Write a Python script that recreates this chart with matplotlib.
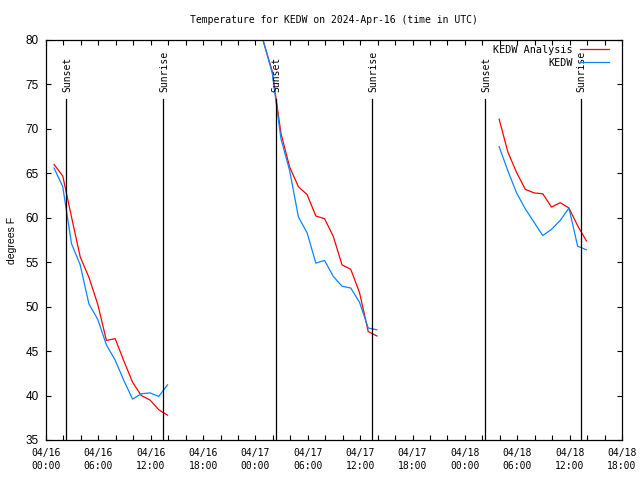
import matplotlib
matplotlib.use('Agg')
import matplotlib.pyplot as plt

# hours since 04/16 00:00 UTC (obs at :55 past each hour)
t1 = [0.92, 1.92, 2.92, 3.92, 4.92, 5.92, 6.92, 7.92, 8.92, 9.92, 10.92, 11.92, 12.92, 13.92]
ana1 = [66.0, 64.7, 60.1, 55.6, 53.3, 50.3, 46.2, 46.4, 43.9, 41.5, 40.0, 39.5, 38.4, 37.8]
obs1 = [65.6, 63.5, 57.1, 54.7, 50.3, 48.6, 45.7, 44.0, 41.7, 39.6, 40.2, 40.3, 39.9, 41.2]

t2 = [24.92, 25.92, 26.92, 27.92, 28.92, 29.92, 30.92, 31.92, 32.92, 33.92, 34.92, 35.92, 36.92, 37.92]
ana2 = [79.8, 76.5, 69.5, 65.7, 63.5, 62.6, 60.2, 59.9, 57.9, 54.7, 54.2, 51.6, 47.2, 46.7]
obs2 = [79.8, 76.3, 68.9, 65.3, 60.1, 58.3, 54.9, 55.2, 53.4, 52.3, 52.1, 50.5, 47.6, 47.4]

t3 = [51.92, 52.92, 53.92, 54.92, 55.92, 56.92, 57.92, 58.92, 59.92, 60.92, 61.92]
ana3 = [71.1, 67.4, 65.1, 63.2, 62.8, 62.7, 61.2, 61.7, 61.1, 59.1, 57.4]
obs3 = [68.0, 65.3, 62.8, 61.0, 59.5, 58.0, 58.7, 59.7, 61.1, 56.8, 56.4]

sunset = [2.32, 26.30, 50.33]
sunrise = [13.37, 37.33, 61.25]

tick_hours = [0, 6, 12, 18, 24, 30, 36, 42, 48, 54, 60, 66]
tick_days = ['04/16', '04/16', '04/16', '04/16', '04/17', '04/17', '04/17', '04/17',
             '04/18', '04/18', '04/18', '04/18']
tick_times = ['00:00', '06:00', '12:00', '18:00', '00:00', '06:00', '12:00', '18:00',
              '00:00', '06:00', '12:00', '18:00']

mono = 'DejaVu Sans Mono'
red = '#ff0000'
blue = '#0a84ff'

fig = plt.figure(figsize=(6.4, 4.8), dpi=100)
ax = fig.add_axes([46 / 640, 40 / 480, 576 / 640, 400 / 480])

for i, (t, a, o) in enumerate([(t1, ana1, obs1), (t2, ana2, obs2), (t3, ana3, obs3)]):
    ax.plot(t, a, color=red, lw=0.9, label='KEDW Analysis' if i == 0 else None)
    ax.plot(t, o, color=blue, lw=0.9, label='KEDW' if i == 0 else None)

for x in sunset:
    ax.axvline(x, ymax=0.8525, color='black', lw=0.9)
    ax.text(x + 0.15, 74.15, 'Sunset', rotation=90, ha='center', va='bottom',
            family=mono, fontsize=7)
for x in sunrise:
    ax.axvline(x, ymax=0.8525, color='black', lw=0.9)
    ax.text(x + 0.15, 74.15, 'Sunrise', rotation=90, ha='center', va='bottom',
            family=mono, fontsize=7)

ax.set_xlim(0, 66)
ax.set_ylim(35, 80)
ax.set_yticks(range(35, 81, 5))
ax.set_xticks(tick_hours)
ax.set_xticklabels([d + '\n' + h for d, h in zip(tick_days, tick_times)],
                   family=mono, fontsize=7, linespacing=1.3)
ax.set_xticks(range(0, 67, 2), minor=True)
for lab in ax.get_yticklabels():
    lab.set_family('Liberation Sans')
    lab.set_fontsize(8.5)
ax.tick_params(which='both', direction='in', top=True, right=True, length=3.5, width=0.8)
ax.tick_params(axis='x', which='major', pad=6)
ax.tick_params(axis='y', which='major', pad=5)
for s in ax.spines.values():
    s.set_linewidth(0.9)

ax.set_ylabel('degrees F', family='Liberation Sans', fontsize=7.5, labelpad=6)
ax.set_title('Temperature for KEDW on 2024-Apr-16 (time in UTC)', family=mono,
             fontsize=7, pad=12)

ax.legend(loc='upper right', bbox_to_anchor=(1 - 13 / 576, 1 - 5 / 400), frameon=False,
          markerfirst=False, prop={'family': mono, 'size': 7.3}, handlelength=2.9,
          handletextpad=0.7, borderpad=0, borderaxespad=0, labelspacing=0.3)

fig.savefig('out.png', dpi=100)
